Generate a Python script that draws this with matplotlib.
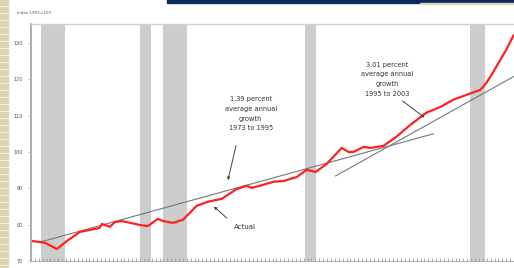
import matplotlib.pyplot as plt
import matplotlib.patches as mpatches
import numpy as np

# productivity index
years = [1973.06, 1973.9, 1974.67, 1975.3, 1976.14, 1977.4, 1977.55, 1978.06, 1978.38,
         1978.83, 1980.0, 1980.5, 1981.14, 1981.46, 1982.1, 1982.74, 1983.64, 1984.35,
         1985.24, 1986.2, 1986.85, 1987.17, 1987.68, 1988.58, 1989.2, 1990.05, 1990.7,
         1991.27, 1991.97, 1992.94, 1993.38, 1993.7, 1994.35, 1994.8, 1995.63, 1996.46,
         1997.36, 1998.38, 1999.28, 2000.12, 2000.95, 2001.85, 2002.23, 2002.68, 2003.13,
         2003.5, 2003.83, 2003.96]
actual = [75.5, 75.0, 73.3, 75.5, 78.0, 79.1, 80.2, 79.4, 80.7,
          81.0, 79.9, 79.6, 81.6, 81.0, 80.5, 81.3, 85.2, 86.3,
          87.1, 89.8, 90.7, 90.1, 90.7, 91.8, 92.0, 93.1, 95.1,
          94.5, 96.7, 101.1, 100.0, 100.0, 101.4, 101.1, 101.7, 104.2,
          107.5, 110.8, 112.4, 114.4, 115.7, 117.1, 119.0, 122.1, 125.4,
          128.1, 130.9, 132.0]

trend1_x = [1973.58, 1998.83]
trend1_y = [75.2, 105.0]
trend2_x = [1992.55, 2003.96]
trend2_y = [93.4, 120.7]

recessions = [(1973.64, 1975.18), (1980.0, 1980.7), (1981.46, 1983.0),
              (1990.56, 1991.27), (2001.2, 2002.17)]

yticks = [70, 80, 90, 100, 110, 120, 130]

fig = plt.figure(figsize=(5.14, 2.68), dpi=100)

# slide decorations
for i in range(0, 268, 7):
    fig.patches.append(mpatches.Rectangle((0, 1 - (i + 5) / 268), 8 / 514, 5 / 268,
                                          transform=fig.transFigure, color='#d9d5b2'))
fig.patches.append(mpatches.Rectangle((167 / 514, 1 - 3 / 268), 347 / 514, 3 / 268,
                                      transform=fig.transFigure, color='#0b2a5c'))
fig.patches.append(mpatches.Rectangle((420 / 514, 1 - 4 / 268), 94 / 514, 1 / 268,
                                      transform=fig.transFigure, color='#d9d5b2'))

ax = fig.add_axes([31 / 514, 7 / 268, 483 / 514, 237 / 268])

for a, b in recessions:
    ax.axvspan(a, b, color='#cdcdcd', lw=0)

ax.plot(trend1_x, trend1_y, color='#777777', lw=0.8)
ax.plot(trend2_x, trend2_y, color='#777777', lw=0.8)
ax.plot(years, actual, color='#ff2020', lw=1.6)

ax.set_xlim(1973.0, 2004.0)
ax.set_ylim(70, 135.2)
ax.set_yticks(yticks)
ax.set_yticklabels([str(v) for v in yticks], fontsize=3.5, color='#555555')
ax.set_xticks(np.arange(1973, 2004, 1))
ax.set_xticks(np.arange(1973, 2004, 0.25), minor=True)
ax.tick_params(axis='x', which='both', length=2, width=0.6, color='#999999',
               labelbottom=False, direction='in')
ax.tick_params(axis='y', length=2, width=0.6, color='#bbbbbb', pad=4)

ax.spines['right'].set_visible(False)
ax.spines['left'].set_color('#a8a8a8')
ax.spines['left'].set_linewidth(1.3)
ax.spines['top'].set_color('#d0d0d0')
ax.spines['top'].set_linewidth(1.0)
ax.spines['bottom'].set_color('#b0b0b0')
ax.spines['bottom'].set_linewidth(0.8)

fig.text(17 / 514, 1 - 13 / 268, 'Index 1992=100', fontsize=3, color='#555555', va='center')

txt = dict(fontsize=4.8, color='#333333', ha='center', va='center', linespacing=1.75)
ax.text(1987.1, 110.5, '1.39 percent\naverage annual\ngrowth\n1973 to 1995', **txt)
ax.text(1995.85, 120.0, '3.01 percent\naverage annual\ngrowth\n1995 to 2003', **txt)
ax.text(1986.0, 79.4, 'Actual', fontsize=5, color='#333333', ha='left', va='center')

arrow = dict(arrowstyle='-|>', color='#444444', lw=0.7, mutation_scale=4)
ax.annotate('', xy=(1985.6, 91.5), xytext=(1986.2, 102.5), arrowprops=arrow)
ax.annotate('', xy=(1998.4, 109.0), xytext=(1996.7, 114.5), arrowprops=arrow)
ax.annotate('', xy=(1984.6, 85.5), xytext=(1985.7, 81.3), arrowprops=arrow)

fig.savefig('out.png', dpi=100)
